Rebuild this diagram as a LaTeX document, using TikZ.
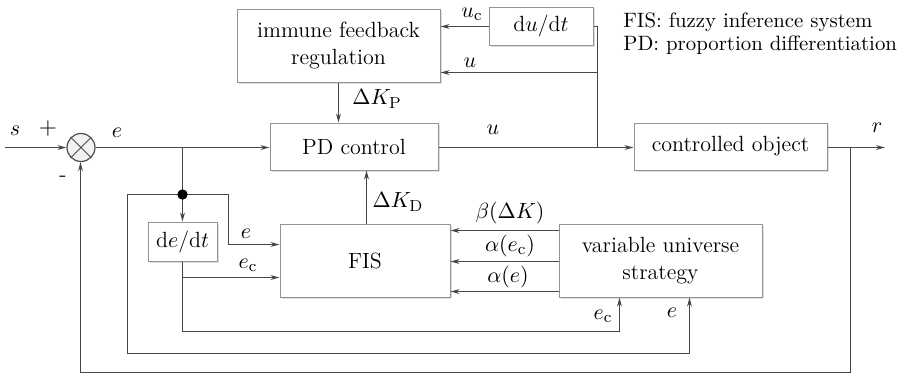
\documentclass[tikz,border=0pt]{standalone}
\usetikzlibrary{arrows.meta,shadows}
\begin{document}
\begin{tikzpicture}[x=0.5pt,y=-0.5pt,
  font=\fontsize{11}{13.5}\selectfont,
  blk/.style={draw=gray!85, line width=0.5pt, fill=white, rectangle, align=center, inner sep=1pt,
    drop shadow={shadow xshift=0.8pt, shadow yshift=-0.8pt, fill=gray!50, opacity=0.5}},
  ln/.style={draw=black!72, line width=0.6pt},
  arr/.style={ln, -{Stealth[length=4.5pt,width=2.4pt]}},
  lab/.style={inner sep=0pt}]
\useasboundingbox (0,0) rectangle (903,376);

% blocks
\node[blk, minimum width=101.5pt, minimum height=36.5pt] (imm) at (338.5,45.5) {immune feedback\\regulation};
\node[blk, minimum width=52pt, minimum height=19pt] (dudt) at (541,26) {d$u$/d$t$};
\node[blk, minimum width=84pt, minimum height=23.5pt] (pd) at (354,146.5) {PD control};
\node[blk, minimum width=96.5pt, minimum height=23.5pt] (co) at (730.5,146.5) {controlled object};
\node[blk, minimum width=85pt, minimum height=36.5pt] (fis) at (365,260.5) {FIS};
\node[blk, minimum width=34.5pt, minimum height=19.5pt] (dedt) at (182.5,241.5) {d$e$/d$t$};
\node[blk, minimum width=101.5pt, minimum height=36.5pt] (vus) at (660.5,260.5) {variable universe\\strategy};

% summing junction
\node[circle, draw=gray!60!black, line width=0.6pt, fill=gray!10, minimum size=14pt, inner sep=0pt] (sum) at (81,147.5) {};
\draw[gray!60!black, line width=0.5pt] (sum.north east) -- (sum.south west) (sum.north west) -- (sum.south east);

% input
\coordinate (in) at (5,147.5);
\draw[arr] (in) -- (sum.west);
\node[lab] (ls) at (15,131) {$s$};
\node[lab] (lplus) at (48,128) {\fontsize{13}{13}\selectfont$+$};
\node[lab] (lminus) at (63,179) {-};

% main forward path
\draw[arr] (sum.east) -- (sum.east -| pd.west);
\node[lab] (le1) at (117,133) {$e$};

% PD to plant
\coordinate (pdout) at (438,147.5);
\draw[arr] (pd.east |- pdout) -- (pdout -| co.west);
\node[lab] (lu1) at (493,130) {$u$};

% output and feedback
\coordinate (out) at (885,147.5);
\coordinate (fbA) at (850.5,147.5);
\coordinate (fbB) at (850.5,372.5);
\coordinate (fbC) at (80.5,372.5);
\draw[arr] (out -| co.east) -- (out);
\node[lab] (lr) at (877,128) {$r$};
\draw[arr] (fbA) -- (fbB) -- (fbC) -- (fbC |- sum.south);

% u branch to immune / du/dt
\coordinate (uJ) at (597.5,147.5);
\coordinate (uT) at (597.5,26.5);
\coordinate (uM) at (597.5,72.5);
\draw[ln] (uJ) -- (uT) -- (uT -| dudt.east);
\draw[arr] (uM) -- (uM -| imm.east);
\node[lab] (lu2) at (470,63) {$u$};
\draw[arr] (uT -| dudt.west) -- (uT -| imm.east);
\node[lab] (luc) at (472,14) {$u_{\mathrm{c}}$};

% Delta K_P
\coordinate (kp) at (338.5,0);
\draw[arr] (kp |- imm.south) -- (kp |- pd.north);
\node[lab] (lkp) at (377,99) {$\Delta K_{\mathrm{P}}$};

% Delta K_D
\coordinate (kd) at (366.5,0);
\draw[arr] (kd |- fis.north) -- (kd |- pd.south);
\node[lab] (lkd) at (398,202) {$\Delta K_{\mathrm{D}}$};

% e branch
\coordinate (br) at (182.5,147.5);
\coordinate (dot) at (182.5,194.5);
\draw[ln] (br) -- (dot);
\draw[arr] (dot) -- (dedt.north);
\coordinate (eA) at (228.5,194.5);
\coordinate (eB) at (228.5,244.5);
\draw[arr] (dot) -- (eA) -- (eB) -- (eB -| fis.west);
\node[lab] (le2) at (246,234) {$e$};

% outer e loop to VUS
\coordinate (loopA) at (127.5,194.5);
\coordinate (loopB) at (127.5,353.5);
\coordinate (loopC) at (689.5,353.5);
\draw[arr] (dot) -- (loopA) -- (loopB) -- (loopC) -- (loopC |- vus.south);
\fill[black] (dot) circle (2.6pt);
\node[lab] (le3) at (672,313) {$e$};

% e_c
\coordinate (ecA) at (182.5,277.5);
\coordinate (ecB) at (182.5,331.5);
\coordinate (ecC) at (619.5,331.5);
\draw[arr] (dedt.south) -- (ecA) -- (ecA -| fis.west);
\draw[arr] (ecA) -- (ecB) -- (ecC) -- (ecC |- vus.south);
\node[lab] (lec1) at (248,265) {$e_{\mathrm{c}}$};
\node[lab] (lec2) at (603,316) {$e_{\mathrm{c}}$};

% VUS to FIS
\coordinate (yA) at (0,230.5);
\coordinate (yB) at (0,261.5);
\coordinate (yC) at (0,291.5);
\draw[arr] (yA -| vus.west) -- (yA -| fis.east);
\draw[arr] (yB -| vus.west) -- (yB -| fis.east);
\draw[arr] (yC -| vus.west) -- (yC -| fis.east);
\node[lab] (lbeta) at (510,213) {$\beta(\Delta K)$};
\node[lab] (lalpha1) at (510,246) {$\alpha(e_{\mathrm{c}})$};
\node[lab] (lalpha2) at (508,277) {$\alpha(e)$};

% legend
\node[lab, anchor=base west, font=\fontsize{10.4}{12}\selectfont] (leg1) at (623,27) {FIS: fuzzy inference system};
\node[lab, anchor=base west, font=\fontsize{10.4}{12}\selectfont] (leg2) at (623,50) {PD: proportion differentiation};
\end{tikzpicture}
\end{document}
